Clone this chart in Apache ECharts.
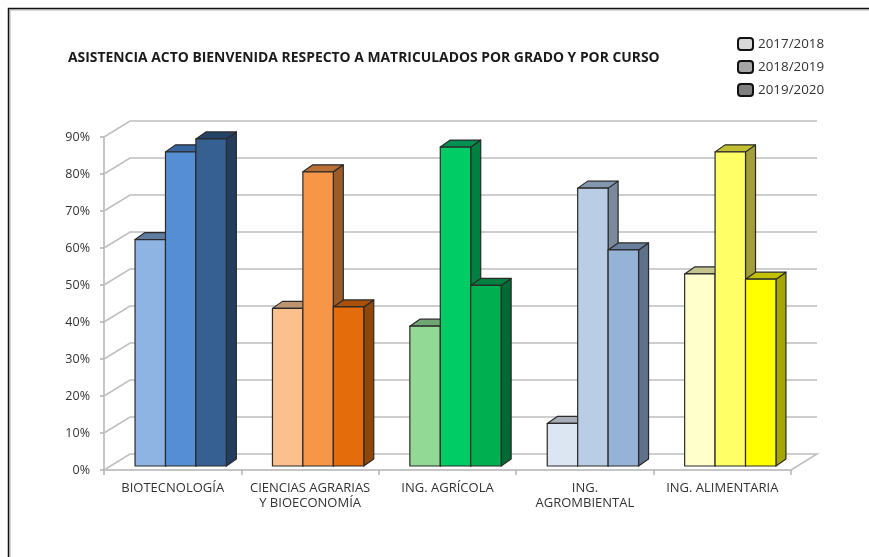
<!DOCTYPE html>
<html><head><meta charset="utf-8">
<style>html,body{margin:0;padding:0;background:#fff}#c{width:869px;height:557px}</style>
<script src="https://cdn.jsdelivr.net/npm/echarts@6/dist/echarts.min.js"></script>
</head><body><div id="c"></div>
<script>
const categories = ['BIOTECNOLOGÍA','CIENCIAS AGRARIAS\nY BIOECONOMÍA','ING. AGRÍCOLA','ING.\nAGROMBIENTAL','ING. ALIMENTARIA'];
const yearNames = ['2017/2018','2018/2019','2019/2020'];
const values2017 = [61.2,42.6,37.8,11.5,51.9];
const values2018 = [84.9,79.5,86.2,75.1,84.9];
const values2019 = [88.4,43.0,48.8,58.4,50.5];
const yTicks = [0,10,20,30,40,50,60,70,80,90];
const colors2017 = ['#8db4e3','#fcc08c','#92d996','#dce6f2','#ffffcc'];
const colors2018 = ['#558ed5','#f79646','#00cc66','#b9cde5','#ffff66'];
const colors2019 = ['#376092','#e46c0a','#00b050','#95b3d7','#ffff00'];
const topColors2017 = ['#5f7da3','#bd9370','#6fa772','#a7aeb8','#c4c48f'];
const topColors2018 = ['#38649e','#b96f35','#009050','#8497b0','#c0c030'];
const topColors2019 = ['#254268','#aa5008','#008040','#6a7f9c','#c2c200'];
const sideColors2017 = ['#254268','#8f4606','#006b32','#5f7089','#a6a600'];
const sideColors2018 = ['#254268','#9c5c2a','#008040','#7a8a9c','#a3a03c'];
const sideColors2019 = ['#223d5e','#8f4606','#006b32','#5f7089','#a6a600'];

const W3D = {dx:26, dy:-16};
const BAR = {dx:10, dy:-7, lift:4, shift:8, ratio:0.2215};

function wallItem(params, api){
  const t = api.value(0);
  const cs = params.coordSys;
  const y = api.coord([0,t])[1];
  const x0 = cs.x, x1 = cs.x+cs.width;
  const pts = [[x0,y],[x0+W3D.dx,y+W3D.dy],[x1+W3D.dx,y+W3D.dy]];
  if(t===0) pts.push([x1,y]);
  return {type:'polyline',shape:{points:pts},style:{fill:null,stroke:'#bfbfbf',lineWidth:1.5},silent:true};
}
function barSeries(name,vals,face,top,side,gray,idx){
  return {
    name, type:'custom', coordinateSystem:'cartesian2d',
    itemStyle:{color:gray,borderColor:'#111',borderWidth:2},
    data: vals.map((v,i)=>[i,v]),
    encode:{x:0,y:1}, z:3+idx,
    renderItem(params,api){
      const i=api.value(0), v=api.value(1);
      const w=api.size([1,0])[0]*BAR.ratio;
      const c=api.coord([i,v]), c0=api.coord([i,0]);
      const xl=c[0]+BAR.shift+(idx-1.5)*w, xr=xl+w;
      const yt=c[1]-BAR.lift, yb=c0[1]-BAR.lift;
      const dx=BAR.dx, dy=BAR.dy;
      const line={stroke:'#2a2a2a',lineWidth:1.2,lineJoin:'round'};
      return {type:'group',children:[
        {type:'polygon',shape:{points:[[xr,yt],[xr+dx,yt+dy],[xr+dx,yb+dy],[xr,yb]]},style:Object.assign({fill:side[i]},line)},
        {type:'polygon',shape:{points:[[xl,yt],[xl+dx,yt+dy],[xr+dx,yt+dy],[xr,yt]]},style:Object.assign({fill:top[i]},line)},
        {type:'rect',shape:{x:xl,y:yt,width:w,height:yb-yt},style:Object.assign({fill:face[i]},line)}
      ]};
    }
  };
}
const chart = echarts.init(document.getElementById('c'),null,{renderer:'canvas'});
chart.setOption({
  animation:false,
  backgroundColor:'#fff',
  graphic:[
    {type:'polyline',shape:{points:[[10,557],[10,10],[869,10]]},style:{fill:null,stroke:'#b0b0b0',lineWidth:1},silent:true},
    {type:'polyline',shape:{points:[[8.5,557],[8.5,8.5],[869,8.5]]},style:{fill:null,stroke:'#111',lineWidth:1.5},silent:true}
  ],
  title:{text:'ASISTENCIA ACTO BIENVENIDA RESPECTO A MATRICULADOS POR GRADO Y POR CURSO',left:63,top:46,
    textStyle:{fontFamily:'Open Sans',fontSize:13.9,fontWeight:'bold',color:'#1a1a1a'}},
  legend:{orient:'vertical',left:737,top:37,padding:0,itemWidth:15,itemHeight:12,itemGap:9,
    data:yearNames,selectedMode:false,icon:'roundRect',
    textStyle:{fontFamily:'Open Sans',fontSize:13.4,lineHeight:14,color:'#333'}},
  grid:{left:104,right:78,top:137,bottom:87},
  xAxis:{type:'category',data:categories,
    axisLine:{lineStyle:{color:'#b3b3b3',width:1.5}},
    axisTick:{show:true,alignWithLabel:false,length:5,lineStyle:{color:'#b3b3b3',width:1.5}},
    axisLabel:{fontFamily:'Open Sans',fontSize:13,color:'#333',margin:10.5,lineHeight:15,interval:0}},
  yAxis:{type:'value',min:0,max:90,interval:10,
    axisLine:{show:true,lineStyle:{color:'#b3b3b3',width:1.5}},
    axisTick:{show:true,length:4,lineStyle:{color:'#b3b3b3',width:1.5}},
    splitLine:{show:false},
    axisLabel:{fontFamily:'Open Sans',fontSize:12.5,color:'#333',margin:14,padding:[6,0,0,0],formatter:'{value}%'}},
  series:[
    {type:'custom',silent:true,z:1,data:yTicks.map(t=>[t]),renderItem:wallItem,encode:{y:0},legendHoverLink:false},
    barSeries(yearNames[0],values2017,colors2017,topColors2017,sideColors2017,'#d9d9d9',0),
    barSeries(yearNames[1],values2018,colors2018,topColors2018,sideColors2018,'#a6a6a6',1),
    barSeries(yearNames[2],values2019,colors2019,topColors2019,sideColors2019,'#7f7f7f',2)
  ]
});
</script></body></html>
